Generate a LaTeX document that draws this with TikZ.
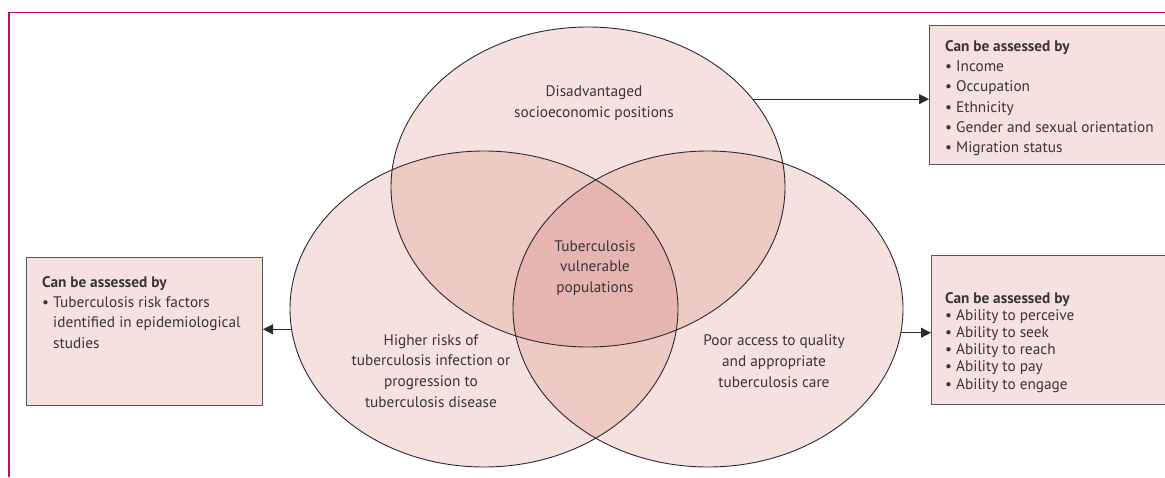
\documentclass[tikz,border=0pt]{standalone}
\usepackage{fontspec}
\setmainfont{PT Sans}
\usetikzlibrary{shapes.geometric,arrows.meta,calc}
\definecolor{lancetred}{HTML}{C4123F}
\definecolor{pkone}{HTML}{F5E1E0}
\definecolor{pktwo}{HTML}{EECAC5}
\definecolor{pkthree}{HTML}{E7B5B1}
\definecolor{txtgray}{HTML}{3A3436}
\definecolor{edgegray}{HTML}{2E2A2B}
\definecolor{boxedge}{HTML}{5A5556}
\tikzset{
  venn/.style={ellipse, draw=edgegray, line width=0.9pt, inner sep=0pt},
  vlabel/.style={align=center, text=txtgray, inner sep=0pt, font=\fontsize{15.3}{20.8}\selectfont},
  assessbox/.style={rectangle, draw=boxedge, fill=pkone, line width=1pt, anchor=north west, inner sep=0pt},
  boxtext/.style={align=left, text=txtgray, anchor=north west, inner sep=0pt},
  conn/.style={draw=edgegray, line width=1pt, -{Triangle[length=10pt,width=10pt]}},
}
\begin{document}
\begin{tikzpicture}[x=1pt,y=-1pt,font=\fontsize{15.3}{20.3}\selectfont]
\useasboundingbox (0,0) rectangle (1165,477);
% frame
\draw[lancetred, line width=1.2pt] (9,477) -- (9,12.5) -- (1166,12.5);
% fills
\fill[pkone] (588,187) ellipse [x radius=197pt, y radius=160pt];
\fill[pkone] (484,309) ellipse [x radius=194pt, y radius=158pt];
\fill[pkone] (708,309) ellipse [x radius=195pt, y radius=158pt];
\begin{scope}
  \clip (588,187) ellipse [x radius=197pt, y radius=160pt];
  \fill[pktwo] (484,309) ellipse [x radius=194pt, y radius=158pt];
  \fill[pktwo] (708,309) ellipse [x radius=195pt, y radius=158pt];
\end{scope}
\begin{scope}
  \clip (484,309) ellipse [x radius=194pt, y radius=158pt];
  \fill[pktwo] (708,309) ellipse [x radius=195pt, y radius=158pt];
\end{scope}
\begin{scope}
  \clip (588,187) ellipse [x radius=197pt, y radius=160pt];
  \clip (484,309) ellipse [x radius=194pt, y radius=158pt];
  \fill[pkthree] (708,309) ellipse [x radius=195pt, y radius=158pt];
\end{scope}
% outlines
\node[venn, minimum width=394pt, minimum height=320pt] (top) at (588,187) {};
\node[venn, minimum width=388pt, minimum height=316pt] (left) at (484,309) {};
\node[venn, minimum width=390pt, minimum height=316pt] (right) at (708,309) {};
% labels
\node[vlabel] (ltop) at (594,103) {Disadvantaged\\socioeconomic positions};
\node[vlabel] (lcen) at (595,268) {Tuberculosis\\vulnerable\\populations};
\node[vlabel] (lleft) at (431,371) {Higher risks of\\tuberculosis infection or\\progression to\\tuberculosis disease};
\node[vlabel] (lright) at (774,361) {Poor access to quality\\and appropriate\\tuberculosis care};
% boxes
\node[assessbox, minimum width=245pt, minimum height=139pt] (btop) at (929,25) {};
\node[assessbox, minimum width=245pt, minimum height=149pt] (bright) at (931,255) {};
\node[assessbox, minimum width=236pt, minimum height=148pt] (bleft) at (26,257) {};
\node[boxtext] (ttop) at ($(btop.north west)+(16,15)$) {\textbf{Can be assessed by}\\
\textbullet\ Income\\ \textbullet\ Occupation\\ \textbullet\ Ethnicity\\ \textbullet\ Gender and sexual orientation\\ \textbullet\ Migration status};
\node[boxtext, font=\fontsize{15.3}{17.2}\selectfont] (tright) at ($(bright.north west)+(14,37)$) {\textbf{Can be assessed by}\\
\textbullet\ Ability to perceive\\ \textbullet\ Ability to seek\\ \textbullet\ Ability to reach\\ \textbullet\ Ability to pay\\ \textbullet\ Ability to engage};
\node[boxtext] (tleft) at ($(bleft.north west)+(16,19)$) {\textbf{Can be assessed by}\\
\textbullet\ Tuberculosis risk factors\\ \hphantom{\textbullet\ }identified in epidemiological\\ \hphantom{\textbullet\ }studies};
% connectors
\draw[conn] (top.28.5) -- (top.28.5 -| btop.west);
\draw[conn] (right.353.5) -- (right.353.5 -| bright.west);
\draw[conn] (left.186.5) -- (left.186.5 -| bleft.east);
\end{tikzpicture}
\end{document}
